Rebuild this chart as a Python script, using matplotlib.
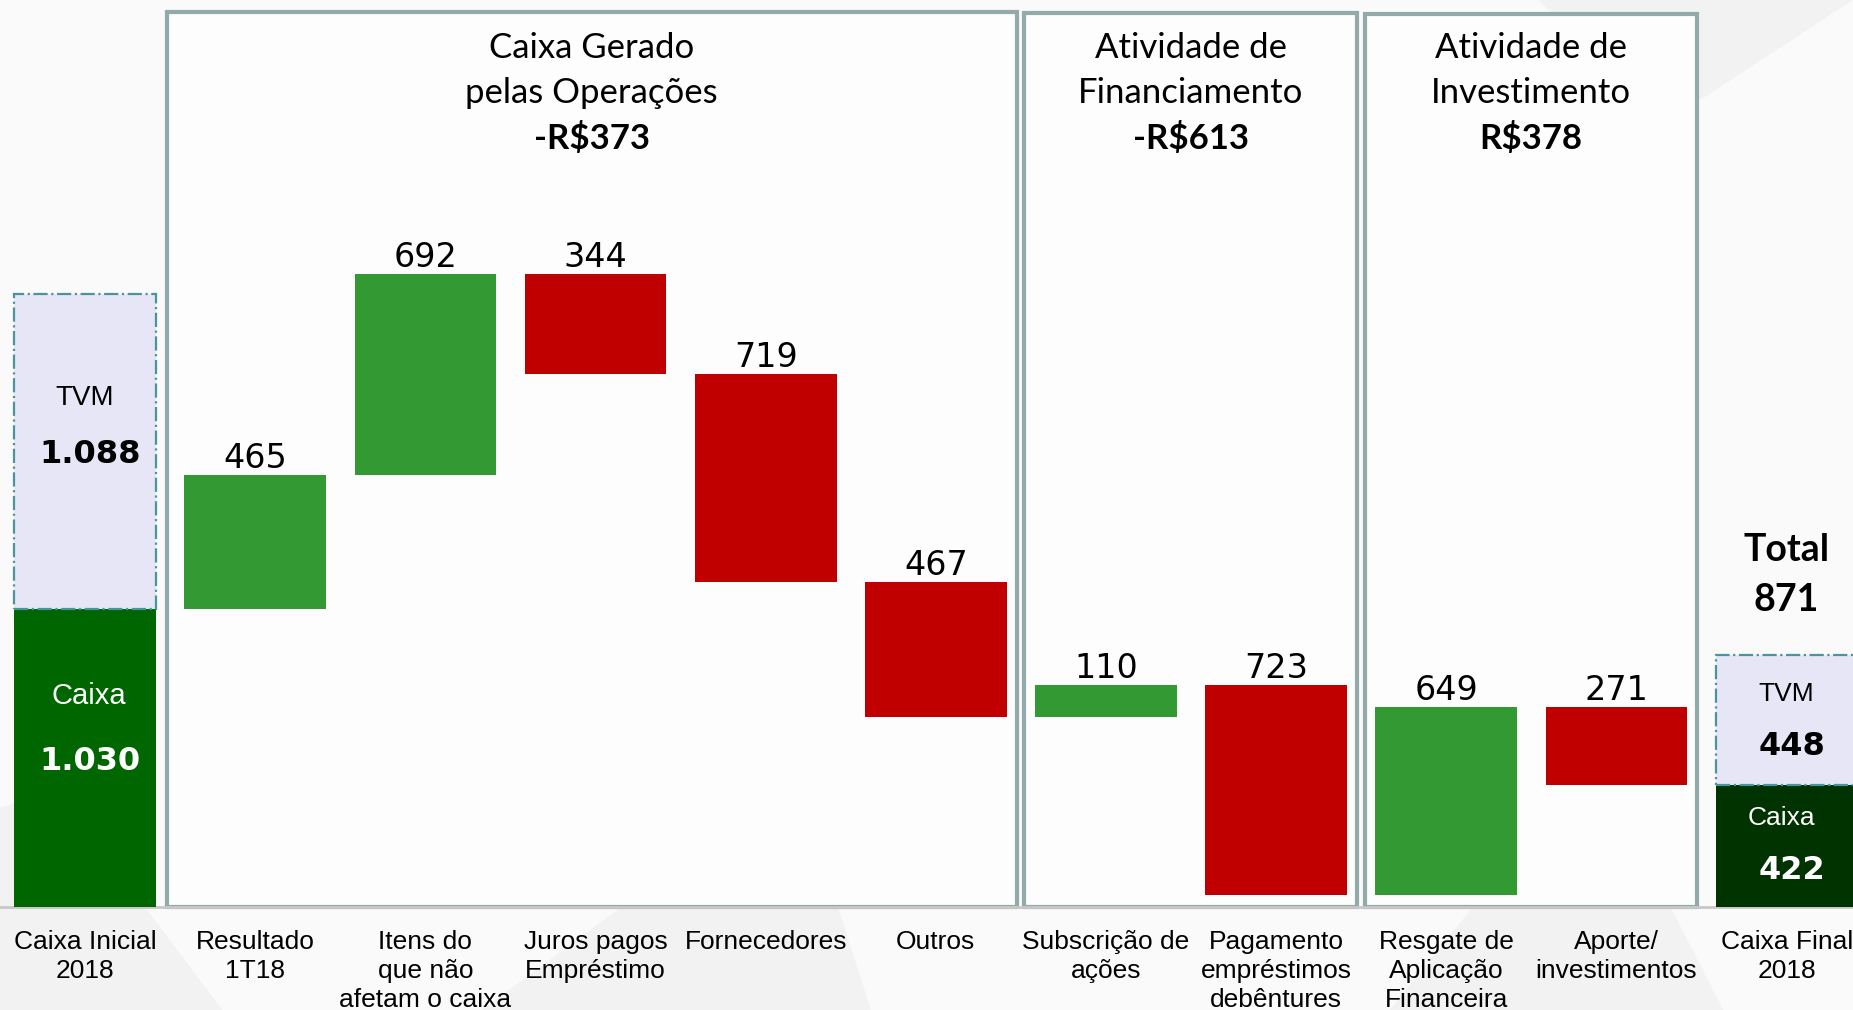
import numpy as np
import matplotlib.pyplot as plt
from matplotlib.patches import Rectangle

# categories along the bottom
labels = ["Caixa Inicial\n2018", "Resultado\n1T18", "Itens do\nque não\nafetam o caixa",
          "Juros pagos\nEmpréstimo", "Fornecedores", "Outros", "Subscrição de\nações",
          "Pagamento\nempréstimos\ndebêntures", "Resgate de\nAplicação\nFinanceira",
          "Aporte/\ninvestimentos", "Caixa Final\n2018"]

# movements between the opening and closing balances
changes = [465, 692, -344, -719, -467, 110, -723, 649, -271]

caixa_ini, tvm_ini = 1030, 1088
caixa_fin, tvm_fin = 422, 448
total_fin = 871

# (title, first bar, last bar)
groups = [("Caixa Gerado\npelas Operações", 1, 5),
          ("Atividade de\nFinanciamento", 6, 7),
          ("Atividade de\nInvestimento", 8, 9)]
group_tops = [3095, 3090, 3085]
group_pads = [0.52, 0.48, 0.48]

GREEN = '#339933'
RED = '#c00000'
LAVENDER = '#e6e6f6'
DASH = '#4a959b'
BOX = '#93aaab'

HEAD_FONT = ['Lato', 'DejaVu Sans']
ARIAL = ['Liberation Sans', 'DejaVu Sans']


def br(n):
    return f"{n:,}".replace(",", ".")


fig = plt.figure(figsize=(18.53, 10.10), dpi=100)
fig.patch.set_facecolor('#fafafa')
ax = fig.add_axes([0, 0, 1, 1])
ax.set_facecolor('#fafafa')
ax.set_xlim(-0.5, 10.39)
ax.set_ylim(-355, 3135)
ax.axis('off')

# faint slide background shapes
for pts in [[(0, 0), (0.12, 0), (0.03, 0.22), (0, 0.2)],
            [(0.26, 0), (0.43, 0.23), (0.47, 0)],
            [(0.75, 0), (0.86, 0.25), (0.93, 0)],
            [(0.83, 1), (0.9, 0.88), (1, 1)]]:
    ax.add_patch(plt.Polygon(pts, closed=True, transform=ax.transAxes,
                             color='#f2f2f2', zorder=0, lw=0))

x = np.arange(len(labels))
w = 0.833

# group boxes
for (title, a, b), top, pad in zip(groups, group_tops, group_pads):
    left = x[a] - pad
    right = x[b] + 0.475
    ax.add_patch(Rectangle((left, 0), right - left, top, facecolor='#fdfdfd',
                           edgecolor=BOX, lw=3, zorder=1))
    cx = (left + right) / 2
    for j, line in enumerate(title.split("\n")):
        ax.text(cx, 2970 - j * 155, line, ha='center', va='center',
                fontsize=25, family=HEAD_FONT, zorder=5)
    total = sum(changes[a - 1:b])
    sign = "-" if total < 0 else ""
    ax.text(cx, 2655, f"{sign}R${abs(total)}", ha='center', va='center',
            fontsize=25, fontweight='bold', family=HEAD_FONT, zorder=5)

ax.axhline(0, color='#c8c8c8', lw=2, zorder=1)

# opening balance
ax.bar(x[0], caixa_ini, w, color='#006600', zorder=3)
ax.bar(x[0], tvm_ini, w, bottom=caixa_ini, color=LAVENDER, edgecolor=DASH,
       linestyle='-.', linewidth=1.6, zorder=3)
ax.text(x[0], caixa_ini + 0.67 * tvm_ini, "TVM", ha='center', va='center',
        fontsize=20, family=ARIAL, zorder=5)
ax.text(x[0] + 0.03, caixa_ini + 0.49 * tvm_ini, br(tvm_ini), ha='center', va='center',
        fontsize=23, fontweight='bold', zorder=5)
ax.text(x[0] + 0.02, 0.71 * caixa_ini, "Caixa", ha='center', va='center',
        fontsize=21, family=ARIAL, color='white', zorder=5)
ax.text(x[0] + 0.03, 0.49 * caixa_ini, br(caixa_ini), ha='center', va='center',
        fontsize=23, fontweight='bold', color='white', zorder=5)

# waterfall steps
level = caixa_ini
for i, c in enumerate(changes):
    bottom = level if c > 0 else level + c
    ax.bar(x[i + 1], abs(c), w, bottom=bottom, color=GREEN if c > 0 else RED, zorder=3)
    ax.annotate(str(abs(c)), (x[i + 1], bottom + abs(c)), xytext=(0, 0),
                textcoords='offset points', ha='center', va='bottom',
                fontsize=24, zorder=5)
    level += c

# closing balance
ax.bar(x[-1], caixa_fin, w, color='#003300', zorder=3)
ax.bar(x[-1], tvm_fin, w, bottom=caixa_fin, color=LAVENDER, edgecolor=DASH,
       linestyle='-.', linewidth=1.6, zorder=3)
ax.text(x[-1], caixa_fin + 0.70 * tvm_fin, "TVM", ha='center', va='center',
        fontsize=19, family=ARIAL, zorder=5)
ax.text(x[-1] + 0.03, caixa_fin + 0.30 * tvm_fin, br(tvm_fin), ha='center', va='center',
        fontsize=23, fontweight='bold', zorder=5)
ax.text(x[-1] - 0.03, 0.73 * caixa_fin, "Caixa", ha='center', va='center',
        fontsize=19, family=ARIAL, color='white', zorder=5)
ax.text(x[-1] + 0.03, 0.30 * caixa_fin, br(caixa_fin), ha='center', va='center',
        fontsize=23, fontweight='bold', color='white', zorder=5)
ax.text(x[-1], total_fin + 362, "Total", ha='center', va='center',
        fontsize=27, fontweight='bold', family=HEAD_FONT, zorder=5)
ax.text(x[-1], total_fin + 190, str(total_fin), ha='center',
        va='center', fontsize=27, fontweight='bold', family=HEAD_FONT, zorder=5)

# category labels
for xi, lab in zip(x, labels):
    for j, line in enumerate(lab.split("\n")):
        ax.text(xi, -120 - j * 101, line, ha='center', va='center',
                fontsize=19, family=ARIAL, zorder=5)

fig.savefig("out.png", dpi=100, facecolor=fig.get_facecolor())
